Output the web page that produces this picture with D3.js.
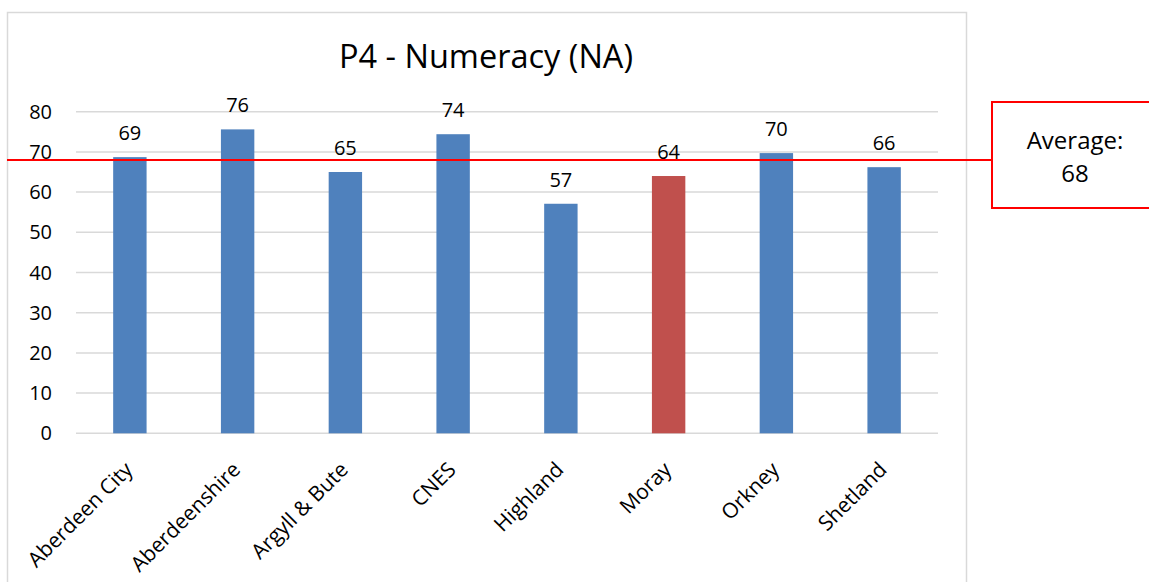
<!DOCTYPE html>
<html>
<head>
<meta charset="utf-8">
<script src="https://cdn.jsdelivr.net/npm/d3@7"></script>
<style>
  body { margin: 0; background: #fff; }
  text { font-family: "Open Sans", sans-serif; fill: #000; }
</style>
</head>
<body>
<svg id="chart"></svg>
<script>
// Data
const areas = ["Aberdeen City", "Aberdeenshire", "Argyll & Bute", "CNES", "Highland", "Moray", "Orkney", "Shetland"];
const scores = [68.7, 75.6, 65.0, 74.4, 57.1, 64.0, 69.7, 66.2];
const labels = ["69", "76", "65", "74", "57", "64", "70", "66"];
const highlight = "Moray";
const average = 68;
const yTicks = [0, 10, 20, 30, 40, 50, 60, 70, 80];

const width = 1149, height = 582;
const svg = d3.select("#chart")
  .attr("width", width)
  .attr("height", height);

// Outer chart frame
svg.append("rect")
  .attr("x", 7.5).attr("y", 12.5)
  .attr("width", 959).attr("height", 600)
  .attr("fill", "none")
  .attr("stroke", "#d9d9d9")
  .attr("stroke-width", 1.5);

const x = d3.scaleBand()
  .domain(areas)
  .range([76, 938])
  .paddingInner(0.69)
  .paddingOuter(0.345);

const y = d3.scaleLinear()
  .domain([0, 80])
  .range([433.3, 111.7]);

// Gridlines
svg.append("g")
  .selectAll("line")
  .data(yTicks)
  .enter()
  .append("line")
    .attr("x1", 76).attr("x2", 938)
    .attr("y1", d => y(d)).attr("y2", d => y(d))
    .style("stroke", "#d9d9d9")
    .style("stroke-width", 1.5);

// Y tick labels
svg.append("g")
  .selectAll("text")
  .data(yTicks)
  .enter()
  .append("text")
    .attr("x", 52)
    .attr("y", d => y(d))
    .attr("dy", "0.35em")
    .attr("text-anchor", "end")
    .style("font-size", "20px")
    .text(d => d);

// Bars
svg.append("g")
  .selectAll("rect")
  .data(areas)
  .enter()
  .append("rect")
    .attr("x", d => x(d))
    .attr("width", x.bandwidth())
    .attr("y", (d, i) => y(scores[i]))
    .attr("height", (d, i) => y(0) - y(scores[i]))
    .attr("fill", d => d === highlight ? "#c0504d" : "#4f81bd");

// Data labels
svg.append("g")
  .selectAll("text")
  .data(areas)
  .enter()
  .append("text")
    .attr("x", d => x(d) + x.bandwidth() / 2)
    .attr("y", (d, i) => y(scores[i]) - 17)
    .attr("text-anchor", "middle")
    .style("font-size", "20px")
    .text((d, i) => labels[i]);

// Category labels, rotated
svg.append("g")
  .selectAll("text")
  .data(areas)
  .enter()
  .append("text")
    .attr("transform", d => `translate(${x(d) + x.bandwidth() / 2 + 4},${471}) rotate(-45)`)
    .attr("text-anchor", "end")
    .style("font-size", "21px")
    .text(d => d);

// Title
svg.append("text")
  .attr("x", 486)
  .attr("y", 68)
  .attr("text-anchor", "middle")
  .style("font-size", "32.5px")
  .text("P4 - Numeracy (NA)");

// Average line and callout
svg.append("line")
  .attr("x1", 7).attr("x2", 991)
  .attr("y1", y(average)).attr("y2", y(average))
  .style("stroke", "#ff0000")
  .style("stroke-width", 2);

svg.append("rect")
  .attr("x", 992).attr("y", 102)
  .attr("width", 170).attr("height", 106)
  .attr("fill", "#fff")
  .attr("stroke", "#ff0000")
  .attr("stroke-width", 2);

svg.append("text")
  .attr("x", 1075).attr("y", 149)
  .attr("text-anchor", "middle")
  .style("font-size", "24px")
  .text("Average:");
svg.append("text")
  .attr("x", 1075).attr("y", 182)
  .attr("text-anchor", "middle")
  .style("font-size", "24px")
  .text(average);
</script>
</body>
</html>
